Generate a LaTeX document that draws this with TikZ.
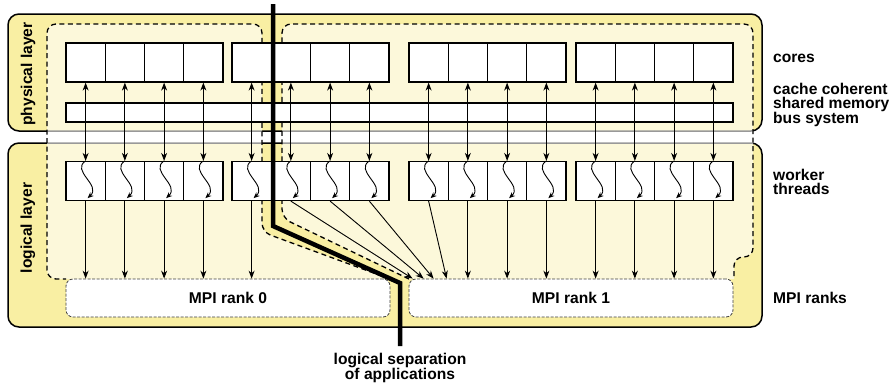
\documentclass[tikz,border=0pt]{standalone}
\usepackage{fontspec}
\setmainfont{Liberation Sans}
\usetikzlibrary{arrows.meta,calc}
\definecolor{layeryellow}{RGB}{249,239,163}

\tikzset{
  layer/.style={draw=black, line width=1.5pt, fill=layeryellow, rounded corners=11pt},
  appregion/.style={draw=black, line width=1.3pt, dash pattern=on 5pt off 3.5pt, fill=white, fill opacity=0.6, rounded corners=9pt},
  unitbox/.style={draw=black, line width=1.3pt, fill=white, minimum width=39.25pt, minimum height=39pt, inner sep=0pt},
  rankbox/.style={draw=black!75, line width=0.8pt, dash pattern=on 3pt off 1.5pt, fill=white, rounded corners=7pt,
    minimum width=324pt, minimum height=38pt, inner sep=0pt, font=\bfseries\fontsize{15.6}{16}\selectfont},
  link/.style={line width=0.9pt, -{Stealth[length=8pt,width=6pt]}},
  dlink/.style={line width=0.9pt, {Stealth[length=8pt,width=6pt]}-{Stealth[length=8pt,width=6pt]}},
  wave/.style={line width=0.9pt, -{Stealth[length=6pt,width=5pt]}},
  lbl/.style={font=\bfseries\fontsize{15.6}{14}\selectfont, align=left, anchor=west, inner sep=0pt},
}

\begin{document}
\begin{tikzpicture}[x=1pt, y=-1pt]
    \useasboundingbox (0,0) rectangle (895,386);
    % layers
    \draw[layer] (8,14) rectangle (762,131);
    \draw[layer] (8,143) rectangle (762,327);
    \node[lbl, anchor=center, rotate=90] (physlbl) at (28,74) {physical layer};
    \node[lbl, anchor=center, rotate=90] (loglbl) at (28,228) {logical layer};
    % applications
    \draw[appregion] (390,279) -- (262,232) -- (262,24) -- (47,24) -- (47,279) -- (66,279);
    \draw[appregion] (409,279) -- (282,218) -- (282,24) -- (753,24) -- (753,257) -- (734,257) -- (734,279);
    % cores and worker threads
    \foreach \g/\gx in {0/66,1/232,2/409,3/576}{
        \foreach \j in {0,...,3}{
            \pgfmathtruncatemacro{\n}{4*\g+\j}
            \node[unitbox] (c\n) at ({\gx+19.625+39.25*\j},62.5) {};
            \node[unitbox] (w\n) at ({\gx+19.625+39.25*\j},181) {};
        }
    }
    \node[unitbox, minimum width=667pt, minimum height=19pt] (bus) at (399.5,112.5) {};
    \node[rankbox] (rank0) at (228,298) {MPI rank 0};
    \node[rankbox] (rank1) at (571,298) {MPI rank 1};
    % connections
    \foreach \n in {0,...,15}{
        \draw[dlink] (c\n.south) -- (w\n.north);
        \draw[wave] (w\n.north) .. controls ($(w\n.north)+(-15,10)$) and ($(w\n.south)+(16,-16)$) .. ($(w\n.south)+(2,-3)$);
    }
    \foreach \n in {0,...,4} \draw[link] (w\n.south) -- (w\n.south |- rank0.north);
    \foreach \n in {9,...,15} \draw[link] (w\n.south) -- (w\n.south |- rank1.north);
    \foreach \n/\dx in {5/4,6/15,7/25,8/38} \draw[link] (w\n.south) -- ($(rank1.north west)+(\dx,0)$);
    % separation
    \coordinate (septop) at (273,4);
    \coordinate (sepknee) at (273,226);
    \coordinate (sepfoot) at (400,283);
    \coordinate (sepend) at (400,346);
    \draw[line width=4.5pt] (septop) -- (sepknee) -- (sepfoot) -- (sepend);
    \node[lbl, anchor=center, align=center] (seplbl) at (400,368) {logical separation\\of applications};
    % labels
    \node[lbl] (coreslbl) at (773,58) {cores};
    \node[lbl] (buslbl) at (773,105) {cache coherent\\shared memory\\bus system};
    \node[lbl] (threadlbl) at (773,182) {worker\\threads};
    \node[lbl] (ranklbl) at (773,298) {MPI ranks};
\end{tikzpicture}
\end{document}
